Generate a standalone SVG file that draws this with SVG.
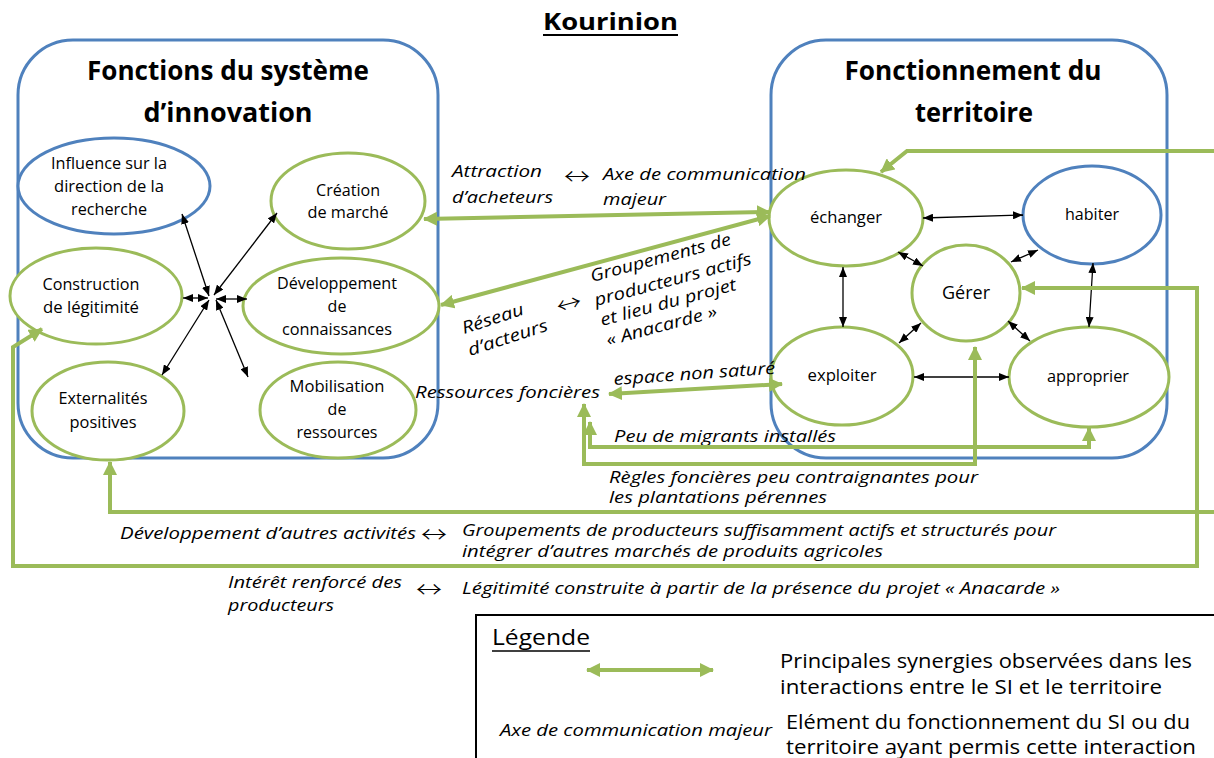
<svg xmlns="http://www.w3.org/2000/svg" width="1214" height="758" viewBox="0 0 1214 758">
<defs>
<style>
text{font-family:"Open Sans","Liberation Sans",sans-serif;fill:#000}
.ttl{font-size:26px;font-weight:bold;text-anchor:middle}
.n{font-size:16px;text-anchor:middle}
.i{font-size:17px;font-style:italic}
.i16{font-size:16px;font-style:italic}
.r{font-size:22px;font-family:"Noto Sans CJK SC","DejaVu Sans",sans-serif;font-weight:300}
.lg{font-size:20px}
.box{fill:none;stroke:#4F81BD;stroke-width:3}
.eg{fill:#fff;stroke:#9BBB59;stroke-width:3}
.eb{fill:#fff;stroke:#4F81BD;stroke-width:3}
.g{fill:none;stroke:#9BBB59;stroke-width:4;stroke-linejoin:miter}
.b{fill:none;stroke:#000;stroke-width:1.3}
</style>
<marker id="ga" markerUnits="userSpaceOnUse" viewBox="0 0 14 14" markerWidth="14" markerHeight="14" refX="13" refY="7" orient="auto-start-reverse"><path d="M0,0 L14,7 L0,14 z" fill="#9BBB59"/></marker>
<marker id="ba" markerUnits="userSpaceOnUse" viewBox="0 0 10 8" markerWidth="10" markerHeight="8" refX="10" refY="4" orient="auto-start-reverse"><path d="M0,0 L10,4 L0,8 z" fill="#000"/></marker>
</defs>
<rect width="1214" height="758" fill="#fff"/>

<g id="title">
<text x="543" y="30" style="font-size:23px;font-weight:bold" textLength="135" lengthAdjust="spacingAndGlyphs">Kourinion</text>
<line x1="543" y1="35" x2="678" y2="35" stroke="#000" stroke-width="2"/>
</g>

<g id="box-si">
<rect class="box" x="18" y="40" width="420" height="418" rx="55" ry="55"/>
<text class="ttl" x="228" y="80" textLength="282" lengthAdjust="spacingAndGlyphs">Fonctions du système</text>
<text class="ttl" x="228" y="122" textLength="169" lengthAdjust="spacingAndGlyphs">d’innovation</text>
</g>
<g id="box-territoire">
<rect class="box" x="771" y="40" width="396" height="418" rx="55" ry="55"/>
<text class="ttl" x="973" y="80" textLength="257" lengthAdjust="spacingAndGlyphs">Fonctionnement du</text>
<text class="ttl" x="974" y="122" textLength="118" lengthAdjust="spacingAndGlyphs">territoire</text>
</g>

<g id="n-influence">
<ellipse class="eb" cx="114" cy="186" rx="96" ry="48"/>
<text class="n" x="109" y="169" textLength="116" lengthAdjust="spacingAndGlyphs">Influence sur la</text>
<text class="n" x="109" y="192" textLength="110" lengthAdjust="spacingAndGlyphs">direction de la</text>
<text class="n" x="109" y="215" textLength="76" lengthAdjust="spacingAndGlyphs">recherche</text>
</g>
<g id="n-creation">
<ellipse class="eg" cx="348" cy="201" rx="77" ry="48"/>
<text class="n" x="348" y="196" textLength="64" lengthAdjust="spacingAndGlyphs">Création</text>
<text class="n" x="348" y="218" textLength="81" lengthAdjust="spacingAndGlyphs">de marché</text>
</g>
<g id="n-construction">
<ellipse class="eg" cx="96" cy="296" rx="86" ry="48"/>
<text class="n" x="91" y="290" textLength="97" lengthAdjust="spacingAndGlyphs">Construction</text>
<text class="n" x="91" y="313" textLength="96" lengthAdjust="spacingAndGlyphs">de légitimité</text>
</g>
<g id="n-developpement">
<ellipse class="eg" cx="341" cy="306" rx="98" ry="48"/>
<text class="n" x="337" y="289" textLength="120" lengthAdjust="spacingAndGlyphs">Développement</text>
<text class="n" x="337" y="312">de</text>
<text class="n" x="337" y="335" textLength="110" lengthAdjust="spacingAndGlyphs">connaissances</text>
</g>
<g id="n-externalites">
<ellipse class="eg" cx="108" cy="411" rx="76" ry="49"/>
<text class="n" x="103" y="404" textLength="89" lengthAdjust="spacingAndGlyphs">Externalités</text>
<text class="n" x="103" y="428" textLength="67" lengthAdjust="spacingAndGlyphs">positives</text>
</g>
<g id="n-mobilisation">
<ellipse class="eg" cx="338" cy="410" rx="78" ry="48"/>
<text class="n" x="337" y="392" textLength="95" lengthAdjust="spacingAndGlyphs">Mobilisation</text>
<text class="n" x="337" y="415">de</text>
<text class="n" x="337" y="438" textLength="81" lengthAdjust="spacingAndGlyphs">ressources</text>
</g>

<g id="n-echanger">
<ellipse class="eg" cx="846" cy="218" rx="77" ry="48"/>
<text class="n" x="846" y="223" textLength="72" lengthAdjust="spacingAndGlyphs">échanger</text>
</g>
<g id="n-habiter">
<ellipse class="eb" cx="1092" cy="215" rx="69" ry="49"/>
<text class="n" x="1092" y="220" textLength="54" lengthAdjust="spacingAndGlyphs">habiter</text>
</g>
<g id="n-gerer">
<ellipse class="eg" cx="966" cy="293" rx="54" ry="48"/>
<text class="n" x="966" y="299" style="font-size:18px" textLength="48" lengthAdjust="spacingAndGlyphs">Gérer</text>
</g>
<g id="n-exploiter">
<ellipse class="eg" cx="842" cy="376" rx="71" ry="49"/>
<text class="n" x="842" y="381" textLength="69" lengthAdjust="spacingAndGlyphs">exploiter</text>
</g>
<g id="n-approprier">
<ellipse class="eg" cx="1089" cy="377" rx="80" ry="50"/>
<text class="n" x="1088" y="382" textLength="82" lengthAdjust="spacingAndGlyphs">approprier</text>
</g>

<g id="labels">
<text class="i" x="452" y="177" textLength="90" lengthAdjust="spacingAndGlyphs">Attraction</text>
<text class="i" x="452" y="203" textLength="101" lengthAdjust="spacingAndGlyphs">d’acheteurs</text>
<text class="r" x="564" y="184" textLength="26" lengthAdjust="spacingAndGlyphs">↔</text>
<text class="i" x="603" y="180" textLength="203" lengthAdjust="spacingAndGlyphs">Axe de communication</text>
<text class="i" x="603" y="205" textLength="63" lengthAdjust="spacingAndGlyphs">majeur</text>

<text class="i" transform="translate(592,282) rotate(-15)" textLength="145" lengthAdjust="spacingAndGlyphs">Groupements de</text>
<text class="i" transform="translate(596,306) rotate(-15)" textLength="162" lengthAdjust="spacingAndGlyphs">producteurs actifs</text>
<text class="i" transform="translate(602,326) rotate(-15)" textLength="140" lengthAdjust="spacingAndGlyphs">et lieu du projet</text>
<text class="i" transform="translate(608,346) rotate(-15)" textLength="114" lengthAdjust="spacingAndGlyphs">« Anacarde »</text>
<text class="i" transform="translate(464,334) rotate(-18)" textLength="64" lengthAdjust="spacingAndGlyphs">Réseau</text>
<text class="i" transform="translate(470,356) rotate(-18)" textLength="83" lengthAdjust="spacingAndGlyphs">d’acteurs</text>
<text class="r" transform="translate(559,315) rotate(-15)" textLength="25" lengthAdjust="spacingAndGlyphs">↔</text>

<text class="i" transform="translate(614,385) rotate(-4)" textLength="162" lengthAdjust="spacingAndGlyphs">espace non saturé</text>
<text class="i" x="415" y="398" textLength="185" lengthAdjust="spacingAndGlyphs">Ressources foncières</text>
<text class="i" x="614" y="442" textLength="222" lengthAdjust="spacingAndGlyphs">Peu de migrants installés</text>
<text class="i16" x="609" y="483" textLength="369" lengthAdjust="spacingAndGlyphs">Règles foncières peu contraignantes pour</text>
<text class="i16" x="609" y="503" textLength="218" lengthAdjust="spacingAndGlyphs">les plantations pérennes</text>

<text class="i" x="120" y="539" textLength="296" lengthAdjust="spacingAndGlyphs">Développement d’autres activités</text>
<text class="r" x="421" y="542" textLength="26" lengthAdjust="spacingAndGlyphs">↔</text>
<text class="i16" x="462" y="536" textLength="594" lengthAdjust="spacingAndGlyphs">Groupements de producteurs suffisamment actifs et structurés pour</text>
<text class="i16" x="462" y="557" textLength="421" lengthAdjust="spacingAndGlyphs">intégrer d’autres marchés de produits agricoles</text>

<text class="i" x="228" y="588" textLength="174" lengthAdjust="spacingAndGlyphs">Intérêt renforcé des</text>
<text class="i" x="228" y="611" textLength="106" lengthAdjust="spacingAndGlyphs">producteurs</text>
<text class="r" x="416" y="597" textLength="26" lengthAdjust="spacingAndGlyphs">↔</text>
<text class="i" x="462" y="594" textLength="598" lengthAdjust="spacingAndGlyphs">Légitimité construite à partir de la présence du projet « Anacarde »</text>
</g>

<g id="connectors">
<line class="b" x1="209" y1="296" x2="182" y2="214" marker-start="url(#ba)" marker-end="url(#ba)"/>
<line class="b" x1="214" y1="295" x2="277" y2="213" marker-start="url(#ba)" marker-end="url(#ba)"/>
<line class="b" x1="208" y1="298" x2="183" y2="298" marker-start="url(#ba)" marker-end="url(#ba)"/>
<line class="b" x1="216" y1="299" x2="247" y2="299" marker-start="url(#ba)" marker-end="url(#ba)"/>
<line class="b" x1="209" y1="300" x2="162" y2="375" marker-start="url(#ba)" marker-end="url(#ba)"/>
<line class="b" x1="216" y1="300" x2="248" y2="377" marker-start="url(#ba)" marker-end="url(#ba)"/>

<line class="b" x1="923" y1="218" x2="1023" y2="215" marker-start="url(#ba)" marker-end="url(#ba)"/>
<line class="b" x1="898" y1="252" x2="923" y2="266" marker-start="url(#ba)" marker-end="url(#ba)"/>
<line class="b" x1="1038" y1="250" x2="1011" y2="262" marker-start="url(#ba)" marker-end="url(#ba)"/>
<line class="b" x1="843" y1="267" x2="843" y2="327" marker-start="url(#ba)" marker-end="url(#ba)"/>
<line class="b" x1="1093" y1="263" x2="1089" y2="327" marker-start="url(#ba)" marker-end="url(#ba)"/>
<line class="b" x1="921" y1="323" x2="899" y2="343" marker-start="url(#ba)" marker-end="url(#ba)"/>
<line class="b" x1="1008" y1="321" x2="1030" y2="341" marker-start="url(#ba)" marker-end="url(#ba)"/>
<line class="b" x1="914" y1="377" x2="1009" y2="377" marker-start="url(#ba)" marker-end="url(#ba)"/>

<path class="g" d="M1216,151 L907,151 L881,172" marker-end="url(#ga)"/>
<line class="g" x1="424" y1="219" x2="770" y2="212" marker-start="url(#ga)" marker-end="url(#ga)"/>
<line class="g" x1="441" y1="305" x2="770" y2="216" marker-start="url(#ga)" marker-end="url(#ga)"/>
<line class="g" x1="609" y1="394" x2="782" y2="384" marker-start="url(#ga)" marker-end="url(#ga)"/>
<path class="g" d="M590,422 L590,447 L1089,447 L1089,428" marker-start="url(#ga)" marker-end="url(#ga)"/>
<path class="g" d="M584,404 L584,464 L975,464 L975,347" marker-start="url(#ga)" marker-end="url(#ga)"/>
<path class="g" d="M110,462 L110,512 L1216,512" marker-start="url(#ga)"/>
<path class="g" d="M1022,288 L1197,288 L1197,566 L13,566 L13,347 L42,329" marker-start="url(#ga)" marker-end="url(#ga)"/>
</g>

<g id="legend">
<rect x="476" y="615" width="742" height="146" fill="none" stroke="#000" stroke-width="2"/>
<text x="492" y="645" style="font-size:22px" textLength="98" lengthAdjust="spacingAndGlyphs">Légende</text>
<line x1="492" y1="651" x2="590" y2="651" stroke="#000" stroke-width="1.5"/>
<line class="g" x1="587" y1="670" x2="713" y2="670" marker-start="url(#ga)" marker-end="url(#ga)"/>
<text class="lg" x="780" y="668" textLength="412" lengthAdjust="spacingAndGlyphs">Principales synergies observées dans les</text>
<text class="lg" x="780" y="694" textLength="382" lengthAdjust="spacingAndGlyphs">interactions entre le SI et le territoire</text>
<text class="i" x="500" y="736" style="font-size:16px" textLength="272" lengthAdjust="spacingAndGlyphs">Axe de communication majeur</text>
<text class="lg" x="786" y="729" textLength="404" lengthAdjust="spacingAndGlyphs">Elément du fonctionnement  du SI ou du</text>
<text class="lg" x="786" y="754" textLength="410" lengthAdjust="spacingAndGlyphs">territoire ayant  permis cette interaction</text>
</g>
</svg>
